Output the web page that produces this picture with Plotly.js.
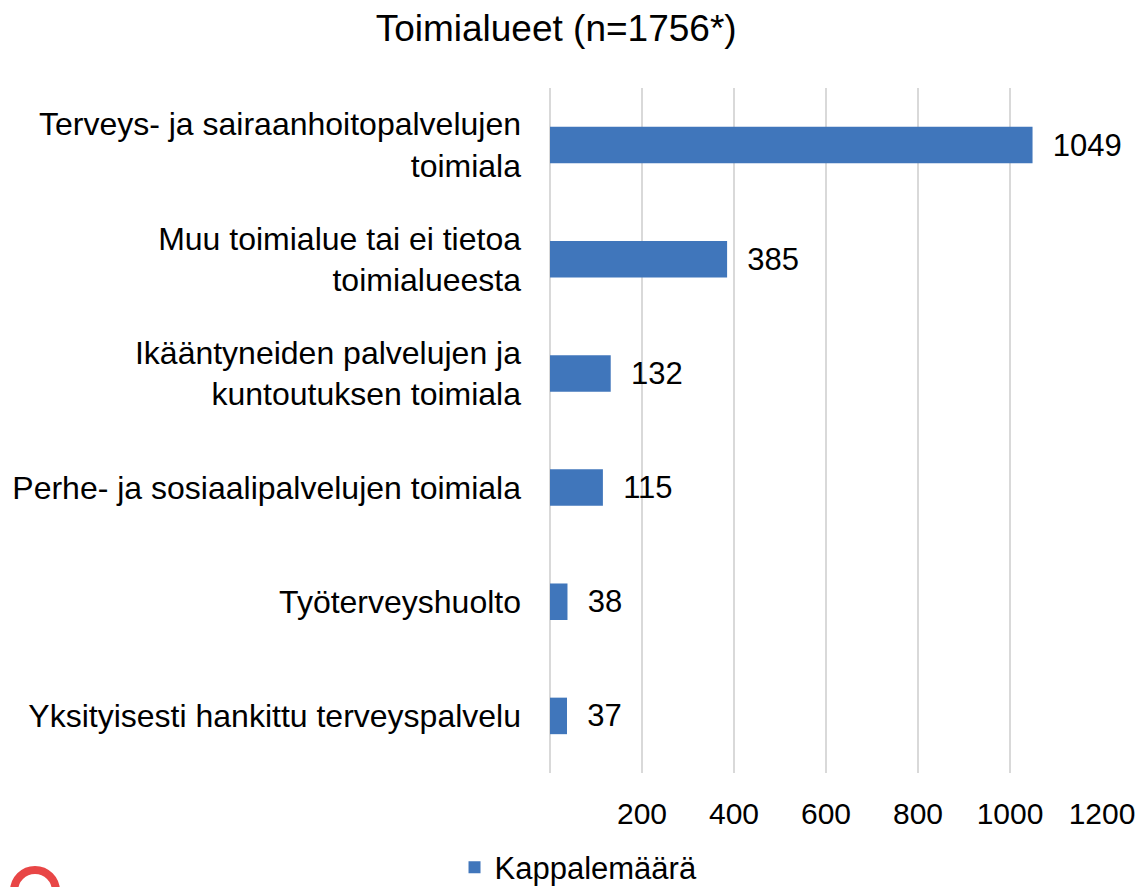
<!DOCTYPE html>
<html>
<head>
<meta charset="utf-8">
<script src="https://cdn.plot.ly/plotly-3.0.1.min.js"></script>
<style>
html,body{margin:0;padding:0;background:#fff;}
#chart{width:1142px;height:887px;}
#ring{position:absolute;left:10px;top:866px;width:34px;height:34px;border:8px solid #e84646;border-radius:50%;}
</style>
</head>
<body>
<div id="chart"></div>
<div id="ring"></div>
<script>
const categories = [
  "Terveys- ja sairaanhoitopalvelujen<br>toimiala",
  "Muu toimialue tai ei tietoa<br>toimialueesta",
  "Ikääntyneiden palvelujen ja<br>kuntoutuksen toimiala",
  "Perhe- ja sosiaalipalvelujen toimiala",
  "Työterveyshuolto",
  "Yksityisesti hankittu terveyspalvelu"
];
const values = [1049, 385, 132, 115, 38, 37];
const seriesName = "Kappalemäärä";
const tickVals = [200, 400, 600, 800, 1000, 1200];
const titleText = "Toimialueet (n=1756*)";

const font = "Liberation Sans, Arial, sans-serif";

Plotly.newPlot("chart", [{
  type: "bar",
  orientation: "h",
  x: values,
  y: categories,
  name: seriesName,
  marker: {color: "#4076bb"},
  width: 0.32,
  text: values.map(v => "\u00a0\u00a0" + v),
  textposition: "outside",
  textfont: {family: font, size: 31, color: "#000"},
  cliponaxis: false,
  hoverinfo: "x+y"
}], {
  width: 1142, height: 887,
  margin: {l: 550, r: 40, t: 88, b: 114},
  paper_bgcolor: "#fff", plot_bgcolor: "#fff",
  title: {text: titleText, font: {family: font, size: 37, color: "#000"}, x: 0.487, xanchor: "center", y: 0.968, yanchor: "middle"},
  font: {family: font, color: "#000"},
  showlegend: true,
  legend: {orientation: "h", x: 0.398, xanchor: "left", xref: "container", y: 0.022, yanchor: "middle", yref: "container",
           font: {family: font, size: 31, color: "#000"}, itemwidth: 30},
  xaxis: {range: [0, 1200], tickvals: tickVals, ticktext: tickVals.map(String),
          showgrid: true, gridcolor: "#d9d9d9", gridwidth: 2, zeroline: true, zerolinecolor: "#d9d9d9", zerolinewidth: 2,
          showline: false, ticks: "", ticklabelstandoff: 20, tickfont: {family: font, size: 30, color: "#000"}, fixedrange: true},
  yaxis: {autorange: "reversed", showgrid: false, showline: false, ticks: "", ticklabelstandoff: 28,
          tickfont: {family: font, size: 32, color: "#000"}, fixedrange: true},
  bargap: 0.68
}, {displayModeBar: false, staticPlot: true});
</script>
</body>
</html>
